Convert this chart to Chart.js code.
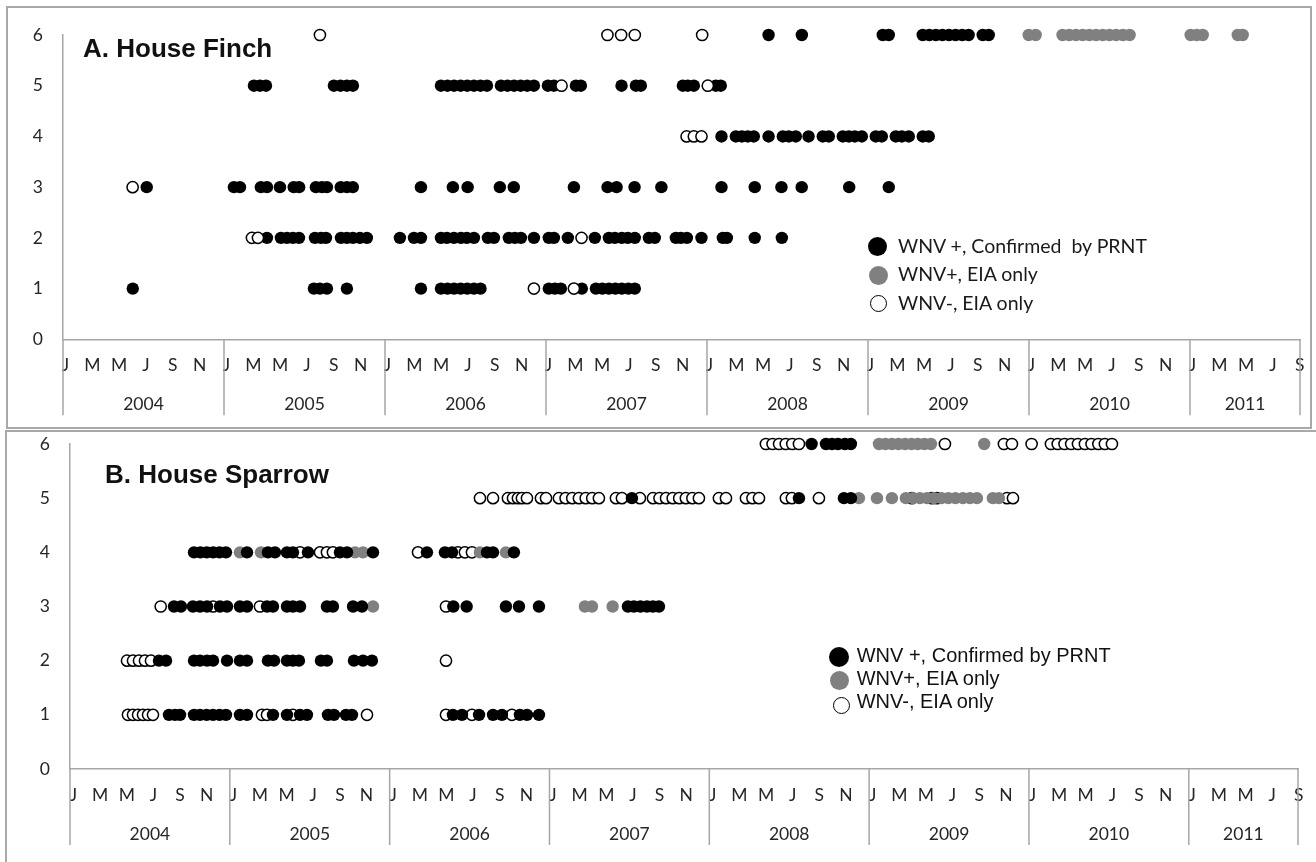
<!DOCTYPE html>
<html>
<head>
<meta charset="utf-8">
<script src="https://cdn.jsdelivr.net/npm/chart.js@4.4.1/dist/chart.umd.min.js"></script>
<style>
  html, body { margin: 0; padding: 0; background: #fff; }
  body { width: 1316px; height: 862px; position: relative; overflow: hidden; }
  .frame { position: absolute; border: 2px solid #a8a8a8; box-sizing: border-box; }
  canvas { position: absolute; left: 0; }
  .title { position: absolute; font: bold 26px "Liberation Sans", Arial, sans-serif; line-height: 26px; white-space: nowrap; color: #111; }
  .lgA { position: absolute; font: 19.5px Lato, "Open Sans", sans-serif; line-height: 19.5px; white-space: pre; color: #1a1a1a; }
  .lgB { position: absolute; font: 20px "Liberation Sans", Arial, sans-serif; line-height: 20px; white-space: pre; color: #111; }
  .mk { position: absolute; border-radius: 50%; box-sizing: border-box; }
</style>
</head>
<body>
<div class="frame" style="left:6px;top:6px;width:1306px;height:423px"></div>
<div class="frame" style="left:5px;top:430px;width:1330px;height:450px"></div>

<canvas id="finch" width="1316" height="430" style="top:0"></canvas>
<canvas id="sparrow" width="1316" height="432" style="top:430px"></canvas>

<div class="title" style="left:83px;top:34.7px">A. House Finch</div>
<div class="title" style="left:105px;top:461.3px">B. House Sparrow</div>

<!-- legend, panel A -->
<div class="mk" style="left:867.5px;top:236.5px;width:19px;height:19px;background:#000"></div>
<div class="mk" style="left:868.5px;top:265.5px;width:19px;height:19px;background:#808080"></div>
<div class="mk" style="left:869.5px;top:294.5px;width:17px;height:17px;background:#fff;border:1.5px solid #000"></div>
<div class="lgA" style="left:898px;top:236px">WNV +, Confirmed  by PRNT</div>
<div class="lgA" style="left:898px;top:264.4px">WNV+, EIA only</div>
<div class="lgA" style="left:898px;top:292.7px">WNV-, EIA only</div>

<!-- legend, panel B -->
<div class="mk" style="left:829.3px;top:646.5px;width:20px;height:20px;background:#000"></div>
<div class="mk" style="left:829.8px;top:671px;width:19.4px;height:19.4px;background:#808080"></div>
<div class="mk" style="left:832.8px;top:696.5px;width:17px;height:17px;background:#fff;border:1.5px solid #000"></div>
<div class="lgB" style="left:856.7px;top:644.7px">WNV +, Confirmed by PRNT</div>
<div class="lgB" style="left:856.7px;top:668.2px">WNV+, EIA only</div>
<div class="lgB" style="left:856.7px;top:690.9px">WNV-, EIA only</div>

<script>
// Sampling dates are given in months since 1 January 2004 (0 = Jan 2004, 12 = Jan 2005, ...).
// Each series holds one list per bird, birds 1..6 (the y value).

const years = ['2004', '2005', '2006', '2007', '2008', '2009', '2010', '2011'];
const monthInitials = ['J', 'M', 'M', 'J', 'S', 'N'];   // every second month
const axisEnd = 92.2;                                     // early September 2011
const birdTicks = [0, 1, 2, 3, 4, 5, 6];

// A. House Finch
const finchConfirmed = [
  [5.2, 18.7, 19.15, 19.67, 21.16, 26.68, 28.17, 28.66, 29.15, 29.64, 30.13, 30.63, 31.12,
   36.21, 36.66, 37.11, 38.67, 39.72, 40.2, 40.69, 41.17, 41.65, 42.14, 42.62],
  [15.2, 16.24, 16.69, 17.14, 17.59, 18.78, 19.23, 19.6, 20.72, 21.16, 21.61, 22.13, 22.65,
   25.11, 26.16, 26.68, 28.17, 28.61, 29.14, 29.66, 30.1, 30.63, 31.67, 32.12, 33.23, 33.68,
   34.13, 35.1, 36.21, 36.59, 37.63, 39.64, 40.69, 41.13, 41.65, 42.1, 42.62, 43.67, 44.11,
   45.68, 46.05, 46.5, 47.59, 49.18, 49.48, 51.56, 53.58],
  [6.24, 12.74, 13.19, 14.75, 15.2, 16.17, 17.2, 17.6, 18.85, 19.3, 19.67, 20.7, 21.16, 21.6,
   26.68, 29.06, 30.16, 32.56, 33.6, 38.08, 40.59, 41.26, 42.6, 44.6, 49.08, 51.56, 53.55,
   55.06, 58.6, 61.55],
  [49.08, 50.15, 50.6, 51.04, 51.49, 52.59, 53.65, 54.1, 54.62, 55.57, 56.63, 57.08, 58.12,
   58.57, 59.02, 59.54, 60.58, 61.03, 62.07, 62.52, 63.04, 64.08, 64.53],
  [14.23, 14.68, 15.13, 20.19, 20.68, 21.16, 21.61, 28.17, 28.66, 29.15, 29.64, 30.13, 30.63,
   31.12, 31.6, 32.64, 33.13, 33.62, 34.11, 34.6, 35.1, 36.14, 36.59, 38.23, 38.6, 41.63,
   42.7, 43.07, 46.2, 46.57, 47.02, 48.66, 49.03],
  [52.59, 55.07, 61.1, 61.55, 64.08, 64.57, 65.06, 65.55, 66.04, 66.53, 67.02, 67.5, 68.55, 69.0]
];
const finchEiaOnly = [
  [], [], [], [], [],
  [71.98, 72.5, 74.5, 75.0, 75.5, 76.0, 76.5, 77.0, 77.5, 78.0, 78.5, 79.0, 79.5,
   84.05, 84.5, 84.95, 87.56, 87.93]
];
const finchNegative = [
  [35.1, 38.08],
  [14.08, 14.53, 38.65],
  [5.19],
  [46.48, 47.02, 47.59],
  [37.16, 48.06],
  [19.15, 40.58, 41.6, 42.62, 47.64]
];

// B. House Sparrow
const sparrowConfirmed = [
  [7.43, 7.88, 8.26, 9.31, 9.76, 10.26, 10.74, 11.23, 11.71, 12.76, 13.29, 15.24, 16.29, 17.27,
   17.79, 19.37, 19.82, 20.72, 21.17, 28.75, 29.43, 30.71, 31.76, 32.43, 33.78, 34.31, 35.21],
  [6.68, 7.21, 9.31, 9.76, 10.29, 10.74, 11.79, 12.76, 13.29, 14.86, 15.32, 16.29, 16.74, 17.19,
   18.84, 19.29, 21.32, 22.0, 22.67],
  [7.81, 8.33, 9.23, 9.76, 10.29, 11.26, 11.79, 12.76, 13.29, 14.79, 15.24, 16.29, 16.74, 17.27,
   19.29, 19.74, 21.25, 21.92, 28.78, 29.78, 32.73, 33.71, 35.21, 41.89, 42.34, 42.83, 43.32,
   43.77, 44.22],
  [9.31, 9.79, 10.27, 10.75, 11.23, 11.71, 13.29, 14.86, 15.39, 16.29, 16.74, 17.87, 20.27, 20.8,
   22.75, 26.8, 28.15, 28.68, 31.31, 31.76, 33.33],
  [42.19, 54.73, 58.11, 58.63],
  [55.68, 56.76, 57.21, 57.66, 58.18, 58.63]
];
const sparrowEiaOnly = [
  [], [],
  [22.75, 38.66, 39.19, 40.74],
  [12.76, 14.34, 21.4, 22.0, 30.78, 32.73],
  [59.23, 60.59, 61.71, 62.76, 63.29, 63.81, 64.34, 64.86, 65.43, 65.95, 66.48, 67.04, 67.57,
   68.09, 69.29, 69.74],
  [60.74, 61.22, 61.71, 62.2, 62.69, 63.18, 63.66, 64.15, 64.64, 68.64]
];
const sparrowNegative = [
  [4.35, 4.73, 5.11, 5.48, 5.86, 6.23, 14.41, 14.79, 16.74, 22.3, 28.23, 30.18, 33.18],
  [4.28, 4.73, 5.18, 5.63, 6.08, 28.23],
  [6.81, 10.74, 14.26, 28.23],
  [17.27, 18.77, 19.29, 19.74, 26.13, 29.13, 29.65, 30.18],
  [30.78, 31.76, 32.88, 33.26, 33.63, 33.93, 34.31, 35.36, 35.74, 36.71, 37.21, 37.71, 38.21,
   38.72, 39.21, 39.71, 40.99, 41.44, 42.79, 43.77, 44.26, 44.75, 45.25, 45.74, 46.24, 46.73,
   47.22, 48.72, 49.25, 50.75, 51.24, 51.73, 53.75, 54.2, 56.23, 63.21, 64.71, 65.09, 70.35, 70.8],
  [52.25, 52.75, 53.24, 53.74, 54.23, 54.73, 65.69, 70.12, 70.72, 72.2, 73.65, 74.16, 74.67,
   75.17, 75.68, 76.2, 76.7, 77.21, 77.7, 78.23]
];

// ---- drawing ----
const AXIS_COLOR = '#a6a6a6';
const TICK_COLOR = '#262626';
const TICK_FONT = { family: 'Lato, "Open Sans", sans-serif', size: 17.5 };

function toPoints(rows) {
  return rows.flatMap((months, i) => months.map(m => ({ x: m, y: i + 1 })));
}

const yearStarts = years.map((_, i) => i * 12);
const yearMids = yearStarts.map((s, i) => i < years.length - 1 ? s + 6 : (s + axisEnd) / 2);
const monthTicks = [];
for (let m = 0; m <= axisEnd; m += 2) monthTicks.push(m);

// vertical separators between the years, through both label rows
const yearDividers = {
  id: 'yearDividers',
  afterDraw(chart, args, opts) {
    const xs = chart.scales.x;
    const ctx = chart.ctx;
    ctx.save();
    ctx.strokeStyle = AXIS_COLOR;
    ctx.lineWidth = 1.5;
    yearStarts.concat([axisEnd]).forEach(v => {
      const px = xs.getPixelForValue(v);
      ctx.beginPath();
      ctx.moveTo(px, xs.top);
      ctx.lineTo(px, xs.top + opts.length);
      ctx.stroke();
    });
    ctx.restore();
  }
};

function buildPanel(canvasId, series, frame) {
  const { left, right, top, bottom, height, labelShift, order } = frame;
  const yAxisWidth = 50;
  const monthRow = 46;
  const yearRow = height - bottom - monthRow;

  const styles = {
    confirmed: { pointBackgroundColor: '#000', pointBorderColor: '#000', pointBorderWidth: 0, pointRadius: 6.2 },
    eia: { pointBackgroundColor: '#808080', pointBorderColor: '#808080', pointBorderWidth: 0, pointRadius: 6.2 },
    negative: { pointBackgroundColor: '#fff', pointBorderColor: '#000', pointBorderWidth: 1.5, pointRadius: 5.6 }
  };

  const datasets = [
    { label: 'WNV +, Confirmed by PRNT', data: toPoints(series.confirmed), order: order.confirmed, ...styles.confirmed },
    { label: 'WNV+, EIA only', data: toPoints(series.eia), order: order.eia, ...styles.eia },
    { label: 'WNV-, EIA only', data: toPoints(series.negative), order: order.negative, ...styles.negative }
  ].map(d => ({ ...d, pointStyle: 'circle', pointHoverRadius: d.pointRadius, clip: false, showLine: false }));

  return new Chart(document.getElementById(canvasId), {
    type: 'scatter',
    data: { datasets },
    plugins: [yearDividers],
    options: {
      responsive: false,
      animation: false,
      events: [],
      layout: { padding: { left: left - yAxisWidth, right: 1316 - right, top: top, bottom: 0 } },
      plugins: {
        legend: { display: false },
        tooltip: { enabled: false },
        yearDividers: { length: 76 }
      },
      scales: {
        y: {
          type: 'linear', position: 'left', min: 0, max: 6,
          grid: { display: false, drawTicks: false },
          border: { display: true, color: AXIS_COLOR, width: 1.5 },
          afterBuildTicks: s => { s.ticks = birdTicks.map(v => ({ value: v })); },
          ticks: { padding: 20, color: TICK_COLOR, font: TICK_FONT },
          afterFit: s => { s.width = yAxisWidth; s.paddingTop = 0; s.paddingBottom = 0; }
        },
        x: {
          type: 'linear', position: 'bottom', min: 0, max: axisEnd, weight: 0,
          grid: { display: false, drawTicks: false },
          border: { display: true, color: AXIS_COLOR, width: 1.5 },
          afterBuildTicks: s => { s.ticks = monthTicks.map(v => ({ value: v })); },
          ticks: {
            autoSkip: false, maxRotation: 0, padding: 16, labelOffset: labelShift,
            color: TICK_COLOR, font: TICK_FONT,
            callback: v => monthInitials[Math.round(v / 2) % 6]
          },
          afterFit: s => { s.height = monthRow; s.paddingLeft = 0; s.paddingRight = 0; }
        },
        yr: {
          type: 'linear', position: 'bottom', min: 0, max: axisEnd, weight: 1,
          grid: { display: false, drawTicks: false },
          border: { display: false },
          afterBuildTicks: s => { s.ticks = yearMids.map(v => ({ value: v })); },
          ticks: {
            autoSkip: false, maxRotation: 0, padding: 9,
            color: TICK_COLOR, font: TICK_FONT,
            callback: (v, i) => years[i]
          },
          afterFit: s => { s.height = yearRow; s.paddingLeft = 0; s.paddingRight = 0; }
        }
      }
    }
  });
}

buildPanel('finch',
  { confirmed: finchConfirmed, eia: finchEiaOnly, negative: finchNegative },
  { left: 63, right: 1300, top: 35, bottom: 339.3, height: 430, labelShift: 2.5,
    order: { negative: 0, confirmed: 1, eia: 2 } });

buildPanel('sparrow',
  { confirmed: sparrowConfirmed, eia: sparrowEiaOnly, negative: sparrowNegative },
  { left: 70, right: 1298, top: 14, bottom: 339, height: 432, labelShift: 3.5,
    order: { confirmed: 0, eia: 1, negative: 2 } });
</script>
</body>
</html>
